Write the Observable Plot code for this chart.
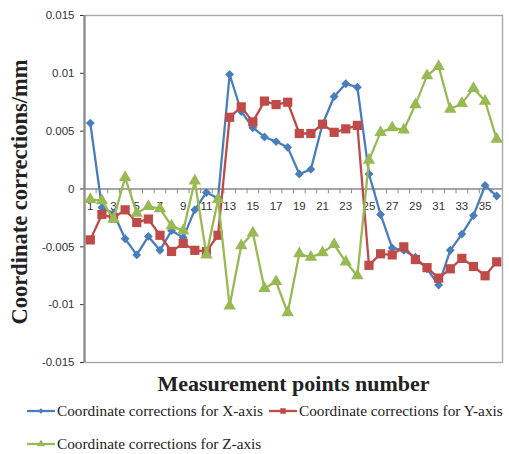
<!DOCTYPE html>
<html><head><meta charset="utf-8">
<script src="https://cdn.jsdelivr.net/npm/d3@7"></script>
<script src="https://cdn.jsdelivr.net/npm/@observablehq/plot@0.6"></script>
<style>
body{margin:0;background:#fff;}
#wrap{position:relative;width:509px;height:454px;overflow:hidden;}
.leg{position:absolute;font-family:"Liberation Serif","Times New Roman",serif;font-size:15.3px;line-height:18px;color:#222;display:flex;align-items:center;white-space:nowrap;height:18px;}
.leg svg{margin-right:1px;}
</style></head><body><div id="wrap"></div>
<script>
const points = [1,2,3,4,5,6,7,8,9,10,11,12,13,14,15,16,17,18,19,20,21,22,23,24,25,26,27,28,29,30,31,32,33,34,35,36];
const xCorr = [0.0057,-0.0016,-0.0021,-0.0043,-0.0057,-0.0041,-0.0053,-0.0036,-0.0042,-0.0018,-0.0003,-0.0008,
               0.0099,0.0067,0.0053,0.0045,0.0041,0.0036,0.0013,0.0017,0.0056,0.0080,0.0091,0.0088,
               0.0013,-0.0022,-0.0051,-0.0053,-0.0059,-0.0069,-0.0083,-0.0053,-0.0039,-0.0023,0.0003,-0.0006];
const yCorr = [-0.0044,-0.0022,-0.0025,-0.0018,-0.0029,-0.0026,-0.0040,-0.0054,-0.0047,-0.0053,-0.0054,-0.0040,
               0.0062,0.0071,0.0058,0.0076,0.0073,0.0075,0.0048,0.0048,0.0056,0.0049,0.0052,0.0055,
               -0.0066,-0.0056,-0.0057,-0.0050,-0.0061,-0.0068,-0.0077,-0.0069,-0.0060,-0.0067,-0.0075,-0.0063];
const zCorr = [-0.0009,-0.0010,-0.0026,0.0010,-0.0021,-0.0015,-0.0017,-0.0032,-0.0036,0.0007,-0.0057,-0.0009,
               -0.0101,-0.0049,-0.0038,-0.0086,-0.0080,-0.0107,-0.0056,-0.0059,-0.0055,-0.0048,-0.0063,-0.0075,
               0.0025,0.0049,0.0053,0.0051,0.0073,0.0098,0.0106,0.0069,0.0074,0.0087,0.0076,0.0043];
const seriesNames = ["Coordinate corrections for X-axis","Coordinate corrections for Y-axis","Coordinate corrections for Z-axis"];
const yTicks = [-0.015,-0.01,-0.005,0,0.005,0.01,0.015];
const xTickLabels = [1,3,5,7,9,11,13,15,17,19,21,23,25,27,29,31,33,35];
const yTitle = "Coordinate corrections/mm";
const xTitle = "Measurement points number";

const colors = ["#4A7EBB","#BE4B48","#98B954"];
const symbols = [d3.symbolDiamond2 || d3.symbolDiamond, d3.symbolSquare, d3.symbolTriangle];
const radii = [4, 5.2, 4.6];
const allSeries = [xCorr, yCorr, zCorr];
const bounds = [points[0] - 0.5, ...points.map(p => p + 0.5)];

const marks = [
  Plot.ruleY([0], {stroke: "#8a8a8a", strokeWidth: 1.3}),
  Plot.ruleX(bounds, {x: d => d, y1: 0, y2: -0.00042, stroke: "#8a8a8a", strokeWidth: 1}),
  Plot.frame({stroke: "#a8a8a8", strokeWidth: 1.4}),
  Plot.ruleX([bounds[0]], {stroke: "#8a8a8a", strokeWidth: 2.2}),
  Plot.text(xTickLabels, {x: d => d, y: 0, dy: 17, fontSize: 11.5, fill: "#333", fontFamily: "Liberation Sans, Arial, sans-serif"})
];
allSeries.forEach((vals, s) => {
  marks.push(Plot.line(vals, {x: (d, i) => points[i], y: d => d, stroke: colors[s], strokeWidth: 2.3, curve: "linear"}));
  marks.push(Plot.dot(vals, {x: (d, i) => points[i], y: d => d, symbol: symbols[s], r: radii[s], fill: colors[s], stroke: "none"}));
});
marks.push(Plot.text([yTitle], {frameAnchor: "left", textAnchor: "middle", lineAnchor: "middle", rotate: -90, dx: -65, dy: 3, fontSize: 22.5, fontWeight: "bold", fontFamily: "Liberation Serif, Times New Roman, serif", fill: "#222"}));
marks.push(Plot.text([xTitle], {frameAnchor: "bottom", textAnchor: "middle", lineAnchor: "middle", dy: 21, fontSize: 22, fontWeight: "bold", fontFamily: "Liberation Serif, Times New Roman, serif", fill: "#222"}));

const chart = Plot.plot({
  width: 509,
  height: 400,
  marginTop: 15,
  marginLeft: 84,
  marginRight: 7,
  marginBottom: 38,
  style: {fontFamily: "Liberation Sans, Arial, sans-serif", fontSize: "11.5px", color: "#333", background: "#fff", overflow: "visible"},
  x: {domain: [bounds[0], bounds[bounds.length - 1]], axis: null},
  y: {domain: [-0.015, 0.015], ticks: yTicks, tickFormat: d => String(+d.toFixed(3)), tickSize: 4, tickPadding: 6, label: null},
  marks
});
const wrap = document.getElementById("wrap");
wrap.appendChild(chart);

function legItem(i, left, top) {
  const div = document.createElement("div");
  div.className = "leg";
  div.style.left = left + "px";
  div.style.top = (top - 9) + "px";
  const svg = d3.create("svg").attr("width", 30).attr("height", 14);
  svg.append("line").attr("x1", 1).attr("x2", 29).attr("y1", 7).attr("y2", 7).attr("stroke", colors[i]).attr("stroke-width", 2.3);
  const sz = [20, 30, 26][i];
  svg.append("path").attr("d", d3.symbol(symbols[i], sz)()).attr("transform", "translate(15,7)").attr("fill", colors[i]);
  div.appendChild(svg.node());
  const span = document.createElement("span");
  span.textContent = seriesNames[i];
  div.appendChild(span);
  wrap.appendChild(div);
}
legItem(0, 26, 411);
legItem(1, 268, 411);
legItem(2, 26, 444);
</script>
</body></html>
